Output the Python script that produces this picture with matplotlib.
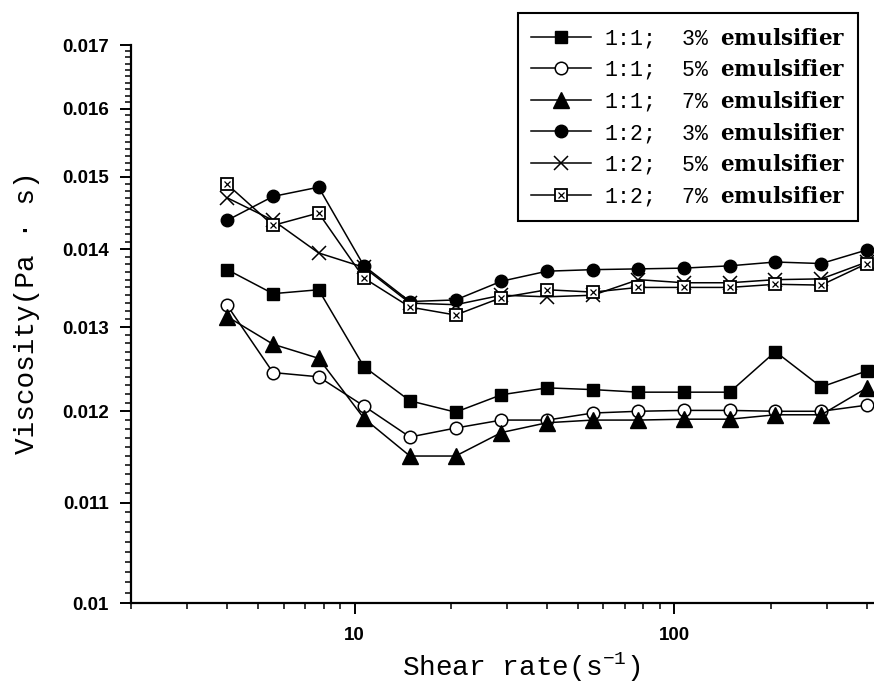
import matplotlib.pyplot as plt
from matplotlib.ticker import FixedLocator, FixedFormatter, NullFormatter
from matplotlib.legend_handler import HandlerTuple
import numpy as np

plt.rcParams['mathtext.fontset'] = 'custom'
plt.rcParams['mathtext.bf'] = 'DejaVu Serif:bold'
plt.rcParams['mathtext.rm'] = 'Liberation Mono'
plt.rcParams['mathtext.default'] = 'rm'

# shear rate (1/s)
shear = [4.0, 5.56, 7.72, 10.7, 14.9, 20.7, 28.8, 40.0, 55.6, 77.2, 107, 149, 207, 288, 400]

# viscosity (Pa s)
v11_3 = [0.01373, 0.01342, 0.01347, 0.01252, 0.01212, 0.01199, 0.01219, 0.01227,
         0.01225, 0.01222, 0.01222, 0.01222, 0.01270, 0.01228, 0.01247]
v11_5 = [0.01327, 0.01245, 0.01240, 0.01206, 0.01171, 0.01181, 0.01190, 0.01190,
         0.01198, 0.01200, 0.01201, 0.01201, 0.01200, 0.01200, 0.01207]
v11_7 = [0.01313, 0.01279, 0.01262, 0.01192, 0.01150, 0.01150, 0.01176, 0.01187,
         0.01190, 0.01190, 0.01191, 0.01191, 0.01196, 0.01196, 0.01227]
v12_3 = [0.01439, 0.01472, 0.01485, 0.01378, 0.01332, 0.01334, 0.01358, 0.01371,
         0.01373, 0.01374, 0.01375, 0.01378, 0.01383, 0.01381, 0.01399]
v12_5 = [0.01470, 0.01439, 0.01395, 0.01376, 0.01330, 0.01328, 0.01340, 0.01338,
         0.01340, 0.01360, 0.01356, 0.01356, 0.01360, 0.01361, 0.01383]
v12_7 = [0.01489, 0.01432, 0.01449, 0.01362, 0.01325, 0.01315, 0.01337, 0.01347,
         0.01344, 0.01350, 0.01350, 0.01350, 0.01354, 0.01353, 0.01381]

labels = ["1:1;  3% $\\mathbf{emulsifier}$",
          "1:1;  5% $\\mathbf{emulsifier}$",
          "1:1;  7% $\\mathbf{emulsifier}$",
          "1:2;  3% $\\mathbf{emulsifier}$",
          "1:2;  5% $\\mathbf{emulsifier}$",
          "1:2;  7% $\\mathbf{emulsifier}$"]

y_ticks = [0.010, 0.011, 0.012, 0.013, 0.014, 0.015, 0.016, 0.017]
y_ticklabels = ['0.01', '0.011', '0.012', '0.013', '0.014', '0.015', '0.016', '0.017']

fig = plt.figure(figsize=(8.74, 6.87), dpi=100)
ax = fig.add_axes([131/874, 84/687, 743/874, 558/687])

lw = 1.1
h1, = ax.plot(shear, v11_3, color='k', lw=lw, marker='s', ms=9)
h2, = ax.plot(shear, v11_5, color='k', lw=lw, marker='o', ms=9, mfc='white', mew=1.1)
h3, = ax.plot(shear, v11_7, color='k', lw=lw, marker='^', ms=11)
h4, = ax.plot(shear, v12_3, color='k', lw=lw, marker='o', ms=9)
h5, = ax.plot(shear, v12_5, color='k', lw=lw, marker='x', ms=10, mew=1.1)
h6a, = ax.plot(shear, v12_7, color='k', lw=lw, marker='s', ms=8.5, mfc='white', mew=1.3)
h6b, = ax.plot(shear, v12_7, color='k', lw=0, marker='x', ms=5, mew=0.9)

ax.set_xscale('log')
ax.set_yscale('log')
ax.set_xlim(2, 421)
ax.set_ylim(0.01, 0.017)

ax.xaxis.set_major_locator(FixedLocator([10, 100]))
ax.xaxis.set_major_formatter(FixedFormatter(['10', '100']))
ax.xaxis.set_minor_locator(FixedLocator([2, 3, 4, 5, 6, 7, 8, 9, 20, 30, 40, 50, 60, 70, 80, 90, 200, 300, 400]))
ax.xaxis.set_minor_formatter(NullFormatter())

ax.yaxis.set_major_locator(FixedLocator(y_ticks))
ax.yaxis.set_major_formatter(FixedFormatter(y_ticklabels))
ax.yaxis.set_minor_locator(FixedLocator(np.arange(0.0100, 0.01701, 0.0001)))
ax.yaxis.set_minor_formatter(NullFormatter())

for s in ['top', 'right']:
    ax.spines[s].set_visible(False)
for s in ['left', 'bottom']:
    ax.spines[s].set_linewidth(1.6)

ax.tick_params(which='major', direction='out', length=8, width=1.4)
ax.tick_params(which='minor', direction='out', length=4.5, width=1.1)
ax.tick_params(axis='y', which='major', pad=8)
ax.tick_params(axis='x', which='major', pad=9)
for t in ax.get_xticklabels() + ax.get_yticklabels():
    t.set_fontfamily('Liberation Sans')
    t.set_fontweight('bold')
    t.set_fontsize(13.5)

ax.set_ylabel('Viscosity(Pa · s)', family='Liberation Mono', fontsize=20)
ax.set_xlabel('Shear rate(s$^{-1}$)', family='Liberation Mono', fontsize=20)
ax.yaxis.set_label_coords(-0.122, 0.52)
ax.xaxis.set_label_coords(0.525, -0.085)

leg = fig.legend([h1, h2, h3, h4, h5, (h6a, h6b)], labels,
                 loc='upper right', bbox_to_anchor=(858/874, 1 - 13/687),
                 handler_map={tuple: HandlerTuple(ndivide=1)},
                 prop={'family': 'Liberation Mono', 'size': 15.5},
                 handlelength=2.8, handletextpad=0.6, labelspacing=0.35,
                 borderpad=0.6, borderaxespad=0, fancybox=False, framealpha=1,
                 edgecolor='k', numpoints=1)
leg.get_frame().set_linewidth(1.5)

fig.savefig('out.png', dpi=100)
